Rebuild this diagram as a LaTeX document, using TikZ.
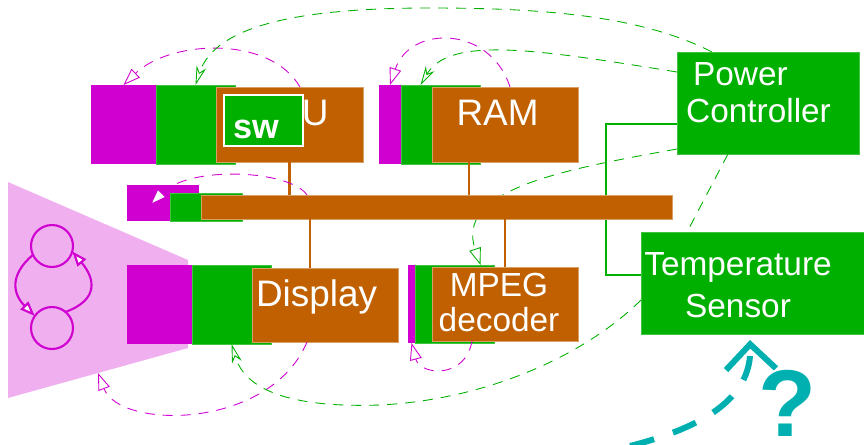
\documentclass[tikz,border=0pt]{standalone}
\usepackage{fontspec}
\setmainfont{Liberation Sans}
\usepackage{tikz}
\usetikzlibrary{arrows.meta, backgrounds}

\definecolor{fsmmag}{HTML}{D000D0}
\definecolor{pwrgreen}{HTML}{00B000}
\definecolor{hwbrown}{HTML}{C06000}
\definecolor{fsmpink}{HTML}{F0B0F0}
\definecolor{qcyan}{HTML}{00B0B0}

\begin{document}
\begin{tikzpicture}[
    x=0.02cm, y=-0.02cm,
    every node/.style={inner sep=0pt, outer sep=0pt},
    mbox/.style={fill=fsmmag, minimum height=1.58cm},
    gbox/.style={fill=pwrgreen, draw=pwrgreen!75!white, line width=0.5pt, minimum width=1.58cm, minimum height=1.58cm},
    ipbox/.style={fill=hwbrown, draw=hwbrown!60!white, line width=0.5pt, minimum width=2.92cm, minimum height=1.48cm},
    pcbox/.style={fill=pwrgreen, draw=pwrgreen!75!white, line width=0.5pt, minimum height=2.04cm},
    boxtext/.style={text=white, font=\fontsize{21}{24}\selectfont, text height=0.72em, text depth=0.21em, yshift=0.06cm},
    pctext/.style={text=white, font=\fontsize{19}{21}\selectfont, align=left},
    swbox/.style={fill=pwrgreen, draw=white, line width=0.6pt, minimum width=1.58cm, minimum height=1.02cm},
    swtext/.style={text=white, font=\bfseries\fontsize{19.5}{22}\selectfont, xshift=-0.15cm, yshift=-0.17cm},
    state/.style={circle, draw=fsmmag, line width=1.2pt, minimum size=0.84cm},
    fsmarrow/.style={draw=fsmmag, line width=1.2pt, -{Triangle[length=0.3cm, width=0.22cm, fill=white]}},
    sigdash/.style={draw=fsmmag, line width=0.5pt, dash pattern=on 0.2cm off 0.16cm, -{Triangle[length=0.34cm, width=0.24cm, fill=white]}},
    pwrdash/.style={draw=pwrgreen, line width=0.5pt, dash pattern=on 0.2cm off 0.16cm},
    pwrtip/.style={-{Stealth[open, length=0.38cm, width=0.2cm, inset=0.12cm]}},
    busline/.style={draw=hwbrown, line width=1.2pt},
    pwrline/.style={draw=pwrgreen, line width=1.2pt},
    qarrow/.style={draw=qcyan, line width=0.12cm, dash pattern=on 0.5cm off 0.4cm, -{Straight Barb[length=0.5cm, width=1cm]}}
]
\useasboundingbox (0,0) rectangle (864,444);

% CPU
\node (cpuM) [mbox, minimum width=1.30cm] at (123.5,124.5) {};
\node (cpuG) [gbox] at (195.5,124.5) {};
\node (cpu) [ipbox, minimum width=2.94cm, minimum height=1.5cm, label={[boxtext]center:CPU}] at (289.5,124.5) {};
\node (sw) [swbox, label={[swtext]center:sw}] at (263.5,120.5) {};

% RAM
\node (ramM) [mbox, minimum width=0.44cm] at (390,124.5) {};
\node (ramG) [gbox] at (440.5,124.5) {};
\node (ram) [ipbox, minimum height=1.5cm, label={[boxtext, xshift=-0.15cm]center:RAM}] at (505,124.5) {};

% bus
\node (busM) [mbox, minimum width=1.44cm, minimum height=0.72cm] at (163,203) {};
\node (busG) [gbox, minimum width=1.44cm, minimum height=0.56cm] at (206,207) {};
\node (bus) [ipbox, minimum width=9.42cm, minimum height=0.48cm] at (436.5,207) {};

% Display and MPEG
\node (dispM) [mbox, minimum width=1.30cm] at (159.5,304.5) {};
\node (dispG) [gbox] at (231.5,304.5) {};
\node (disp) [ipbox, label={[boxtext, xshift=-0.17cm]center:Display}] at (325,305) {};
\node (mpegM) [mbox, minimum width=0.14cm, minimum height=1.56cm] at (411.5,304) {};
\node (mpegG) [gbox, minimum height=1.56cm] at (454.5,304) {};
\node (mpeg) [ipbox, label={[pctext, align=center, font=\fontsize{19}{20}\selectfont, xshift=-0.12cm, yshift=0.03cm]center:MPEG\\decoder}] at (505,304) {};

% power side
\node (power) [pcbox, minimum width=3.64cm, label={[pctext, xshift=-0.19cm, yshift=0.2cm]center:\hspace*{0.14cm}Power\\Controller}] at (768,103) {};
\node (temp) [pcbox, minimum width=4.46cm, label={[pctext, align=center, font=\fontsize{19}{24}\selectfont, xshift=-0.29cm, yshift=-0.04cm]center:Temperature\\Sensor}] at (752.5,283) {};

% state machine
\node (s1) [state] at (52,246) {};
\node (s2) [state] at (52,328) {};
\draw[fsmarrow] (s1.205) to[out=220, in=135, looseness=1.3] (s2.145);
\draw[fsmarrow] (s2.50) to[out=20, in=-50, looseness=1.5] (s1.-15);

\begin{scope}[on background layer]
\fill[fsmpink] (8,182) -- (188,260) -- (188,348) -- coordinate[pos=0.5] (fsmB) (8,398) -- cycle;
\draw[pwrline] ([yshift=-0.42cm]power.west) -- ++(-1.42cm,0) |- ([yshift=0.16cm]temp.west);
\draw[pwrdash, -{Triangle[length=0.34cm, width=0.24cm, fill=white]}] ([yshift=-0.92cm]power.west) .. controls (560,170) and (455,190) .. ([xshift=0.52cm]mpegG.north);
\end{scope}

% bus taps
\draw[busline] (cpu.south) -- (cpu.south |- bus.north);
\draw[busline] ([xshift=-0.72cm]ram.south) -- ([xshift=-0.72cm]ram.south |- bus.north);
\draw[busline] ([xshift=-0.3cm]disp.north) -- ([xshift=-0.3cm]disp.north |- bus.south);
\draw[busline] (mpeg.north) -- (mpeg.north |- bus.south);

% signal arcs
\draw[sigdash] ([xshift=0.21cm]cpu.north) .. controls (270,35) and (170,40) .. (cpuM.north);
\draw[sigdash] ([xshift=0.1cm]ram.north) .. controls (490,25) and (410,25) .. (ramM.north);
\draw[sigdash] ([xshift=-2.59cm]bus.north) .. controls (290,170) and (190,165) .. ([xshift=-0.26cm, yshift=-0.04cm]busM.center);
\draw[sigdash] ([xshift=-0.36cm]disp.south) .. controls (270,430) and (120,430) .. (fsmB);
\draw[sigdash] ([xshift=-0.66cm]mpeg.south) .. controls (465,380) and (420,375) .. (mpegM.south);

% power arcs
\draw[pwrdash, pwrtip] ([xshift=-1.12cm]power.north) .. controls (640,15) and (540,8) .. (430,8) .. controls (300,8) and (215,25) .. (cpuG.north);
\draw[pwrdash, pwrtip] ([yshift=0.62cm]power.west) .. controls (540,50) and (450,35) .. ([xshift=-0.4cm]ramG.north);
\draw[pwrdash] ([xshift=-0.8cm]power.south) -- ([xshift=-1.31cm]temp.north);
\draw[pwrdash, pwrtip] ([yshift=-0.34cm]temp.west) .. controls (580,360) and (480,400) .. (380,405) .. controls (290,408) and (245,390) .. (dispG.south);

% question
\coordinate (qstart) at (630,446);
\draw[qarrow] (qstart) .. controls (700,428) and (752,400) .. ([xshift=-0.05cm, yshift=-0.12cm]temp.south);
\node (query) [text=qcyan, font=\bfseries\fontsize{54}{54}\selectfont] at (787,403) {?};
\end{tikzpicture}
\end{document}
